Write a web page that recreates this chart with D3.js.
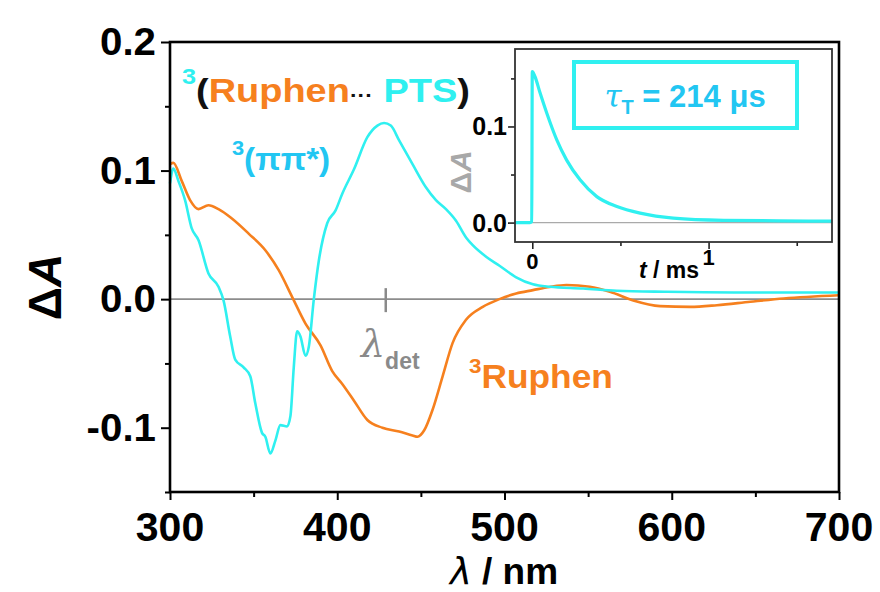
<!DOCTYPE html>
<html><head><meta charset="utf-8">
<script src="https://cdn.jsdelivr.net/npm/d3@7"></script>
<style>
html,body{margin:0;padding:0;background:#fff;}
svg text{font-family:"Liberation Sans",Arial,Helvetica,sans-serif;font-weight:bold;}
</style></head>
<body><svg id="c" width="880" height="592"></svg>
<script>
// ---- data ----
const cyanLambda = [300,302,305,309,313,317,323,329,332,336,339,344,348,351,355,357,360,363,366,370,372,374,376,378,381,383,386,389,394,399,403,410,418,424,428,432,437,445,453,459,465,471,477,481,489,497,507,517,527,547,567,597,637,700];
const cyanDA = [0.090,0.1015,0.092,0.077,0.055,0.046,0.020,0.0096,-0.001,-0.029,-0.047,-0.053,-0.060,-0.081,-0.104,-0.107,-0.120,-0.110,-0.098,-0.099,-0.091,-0.053,-0.025,-0.029,-0.044,-0.037,0.000,0.030,0.059,0.069,0.082,0.101,0.126,0.135,0.137,0.135,0.1235,0.105,0.087,0.077,0.070,0.061,0.048,0.042,0.033,0.026,0.017,0.0115,0.0096,0.0083,0.0065,0.0057,0.0052,0.0052];
const orangeLambda = [300,302,307,312,317,323,329,337,347,357,365,373,381,390,397,403,410,418,427,437,445,448,452,457,463,469,477,487,497,507,517,527,537,551,563,577,593,611,627,647,667,700];
const orangeDA = [0.105,0.106,0.092,0.077,0.070,0.073,0.070,0.0627,0.051,0.038,0.0225,0.0018,-0.019,-0.036,-0.056,-0.066,-0.079,-0.094,-0.100,-0.103,-0.106,-0.107,-0.102,-0.086,-0.060,-0.034,-0.016,-0.006,0.000,0.0044,0.007,0.0095,0.011,0.0096,0.0057,-0.001,-0.0054,-0.006,-0.0047,-0.002,0.0005,0.003];
const decayT = [-0.098,-0.013,-0.003,0.000,0.015,0.044,0.082,0.139,0.195,0.271,0.366,0.48,0.612,0.80,1.085,1.4,1.7];
const decayDA = [0.000,0.000,0.001,0.157,0.152,0.135,0.114,0.086,0.065,0.0445,0.027,0.0167,0.0098,0.0046,0.0023,0.0018,0.0015];
const xTicks = [300,400,500,600,700];
const yTicks = [-0.1,0.0,0.1,0.2];
const insetYTicks = [0.0,0.1];
const insetXTicks = [0,1];
const detLambda = 429;

const CYAN = "#2ff0f0", ORANGE = "#f6801e", BLUE = "#22c6f2", GRAY = "#8a8a8a";
const fmt1 = d => d3.format(".1f")(d).replace("\u2212","-");

const svg = d3.select("#c");
const M = {l:170, r:839, t:42, b:492};
const x = d3.scaleLinear().domain([300,700]).range([M.l, M.r]);
const y = d3.scaleLinear().domain([-0.15,0.2]).range([M.b, M.t]);
const stretch = (sx, ax) => `translate(${ax},0) scale(${sx},1) translate(${-ax},0)`;

// zero line
svg.append("line").attr("x1",M.l).attr("x2",M.r).attr("y1",y(0)).attr("y2",y(0))
  .attr("stroke","#8c8c8c").attr("stroke-width",1.6);

// lambda det marker
svg.append("line").attr("x1",x(detLambda)).attr("x2",x(detLambda)).attr("y1",y(0)-11).attr("y2",y(0)+13)
  .attr("stroke",GRAY).attr("stroke-width",2.5);

const line = d3.line().curve(d3.curveMonotoneX);
svg.append("path").attr("d", line(orangeLambda.map((l,i)=>[x(l), y(orangeDA[i])])))
  .attr("fill","none").attr("stroke",ORANGE).attr("stroke-width",2.6);
svg.append("path").attr("d", line(cyanLambda.map((l,i)=>[x(l), y(cyanDA[i])])))
  .attr("fill","none").attr("stroke",CYAN).attr("stroke-width",2.6);

// axes
const gx = svg.append("g").attr("transform",`translate(0,${M.b})`)
  .call(d3.axisBottom(x).tickValues(d3.range(300,701,50)).tickSize(8).tickFormat(""));
const gy = svg.append("g").attr("transform",`translate(${M.l},0)`)
  .call(d3.axisLeft(y).tickValues(d3.range(-0.15,0.2001,0.05)).tickSize(9).tickFormat(""));
[gx,gy].forEach(g=>{g.select(".domain").remove(); g.selectAll("line").attr("stroke","#000").attr("stroke-width",2);});
gx.selectAll(".tick line").attr("y2", d => (Math.round(d)%100===0)?8:5);
gy.selectAll(".tick line").attr("x2", d => (Math.abs(Math.round(d*100))%10===0)?-9:-5);
// frame
svg.append("rect").attr("x",M.l).attr("y",M.t).attr("width",M.r-M.l).attr("height",M.b-M.t)
  .attr("fill","none").attr("stroke","#000").attr("stroke-width",2.6);

// tick labels
svg.selectAll(".xl").data(xTicks).enter().append("text")
  .attr("x",d=>x(d)).attr("y",541).attr("text-anchor","middle").attr("font-size",41).text(d=>d);
svg.selectAll(".yl").data(yTicks).enter().append("text")
  .attr("x",156).attr("y",d=>y(d)+13).attr("text-anchor","end").attr("font-size",38)
  .attr("transform",stretch(1.06,156))
  .text(fmt1);

// axis titles
const xt = svg.append("text").attr("x",504).attr("y",584).attr("text-anchor","middle").attr("font-size",37);
xt.append("tspan").attr("font-style","italic").attr("font-family","DejaVu Sans").attr("font-weight","normal").text("λ");
xt.append("tspan").text(" / nm");
const yt = svg.append("text").attr("transform","translate(61,287) rotate(-90)").attr("text-anchor","middle").attr("font-size",46);
yt.append("tspan").text("Δ");
yt.append("tspan").attr("font-style","italic").text("A");

// labels
const l1 = svg.append("text").attr("x",182).attr("y",102).attr("font-size",33).attr("transform",stretch(1.15,182));
l1.append("tspan").attr("fill",CYAN).attr("font-size",22).attr("dy",-18).text("3");
l1.append("tspan").attr("fill","#111").attr("dy",18).text("(");
l1.append("tspan").attr("fill",ORANGE).text("Ruphen");
l1.append("tspan").attr("fill","#111").attr("font-size",20).text("···");
l1.append("tspan").attr("fill",CYAN).text(" PTS");
l1.append("tspan").attr("fill","#111").text(")");

const l2 = svg.append("text").attr("x",232).attr("y",170).attr("font-size",32).attr("fill",BLUE).attr("transform",stretch(1.04,232));
l2.append("tspan").attr("font-size",21).attr("dy",-15).text("3");
l2.append("tspan").attr("dy",15).text("(ππ*)");

const l3 = svg.append("text").attr("x",469).attr("y",388).attr("font-size",33).attr("fill",ORANGE).attr("transform",stretch(1.07,469));
l3.append("tspan").attr("font-size",21).attr("dy",-15).text("3");
l3.append("tspan").attr("dy",15).text("Ruphen");

const l4 = svg.append("text").attr("x",361).attr("y",357).attr("fill",GRAY);
l4.append("tspan").attr("font-size",38).attr("font-style","italic").attr("font-family","DejaVu Serif").attr("font-weight","normal").text("λ");
l4.append("tspan").attr("font-size",23).attr("dy",12).text("det");

// ---- inset ----
const I = {l:515, r:832, t:49, b:242};
const xi = d3.scaleLinear().domain([-0.098,1.70]).range([I.l,I.r]);
const yi = d3.scaleLinear().domain([-0.0202,0.1806]).range([I.b,I.t]);
svg.append("rect").attr("x",I.l).attr("y",I.t).attr("width",I.r-I.l).attr("height",I.b-I.t).attr("fill","#fff");
svg.append("line").attr("x1",I.l).attr("x2",I.r).attr("y1",yi(0)).attr("y2",yi(0)).attr("stroke","#aaa").attr("stroke-width",1.3);
svg.append("path").attr("d", d3.line().curve(d3.curveMonotoneX)(decayT.map((t,i)=>[xi(t), yi(decayDA[i])])))
  .attr("fill","none").attr("stroke",CYAN).attr("stroke-width",3.2);
const gxi = svg.append("g").attr("transform",`translate(0,${I.b})`)
  .call(d3.axisBottom(xi).tickValues([0,0.5,1,1.5]).tickSize(6).tickFormat(""));
const gyi = svg.append("g").attr("transform",`translate(${I.l},0)`)
  .call(d3.axisLeft(yi).tickValues([0,0.05,0.1,0.15]).tickSize(6).tickFormat(""));
[gxi,gyi].forEach(g=>{g.select(".domain").remove(); g.selectAll("line").attr("stroke","#222").attr("stroke-width",1.6);});
gxi.selectAll(".tick line").attr("y2", d => (Math.round(d*10)%10===0)?7:4);
gyi.selectAll(".tick line").attr("x2", d => (Math.round(d*100)%10===0)?-7:-4);
svg.append("rect").attr("x",I.l).attr("y",I.t).attr("width",I.r-I.l).attr("height",I.b-I.t)
  .attr("fill","none").attr("stroke","#333").attr("stroke-width",1.8);
svg.selectAll(".iyl").data(insetYTicks).enter().append("text")
  .attr("x",507).attr("y",d=>yi(d)+9).attr("text-anchor","end").attr("font-size",25).text(fmt1);
svg.selectAll(".ixl").data(insetXTicks).enter().append("text")
  .attr("x",d=>xi(d)).attr("y",d=> d===0?269:265).attr("text-anchor","middle").attr("font-size",22).text(d=>d);
const ixt = svg.append("text").attr("x",669).attr("y",278).attr("text-anchor","middle").attr("font-size",23);
ixt.append("tspan").attr("font-style","italic").text("t");
ixt.append("tspan").text(" / ms");
const iyt = svg.append("text").attr("transform","translate(471,172) rotate(-90)").attr("text-anchor","middle").attr("font-size",30).attr("fill","#a8a8a8");
iyt.append("tspan").text("Δ");
iyt.append("tspan").attr("font-style","italic").text("A");
// tau box
svg.append("rect").attr("x",574).attr("y",62).attr("width",223).attr("height",66).attr("fill","none")
  .attr("stroke",CYAN).attr("stroke-width",4);
const tt = svg.append("text").attr("x",685).attr("y",107).attr("text-anchor","middle").attr("font-size",31).attr("fill",BLUE);
tt.append("tspan").attr("font-style","italic").attr("font-family","DejaVu Serif").attr("font-weight","normal").text("τ");
tt.append("tspan").attr("font-size",20).attr("dy",7).text("T");
tt.append("tspan").attr("dy",-7).text(" = 214 μs");
</script></body></html>
